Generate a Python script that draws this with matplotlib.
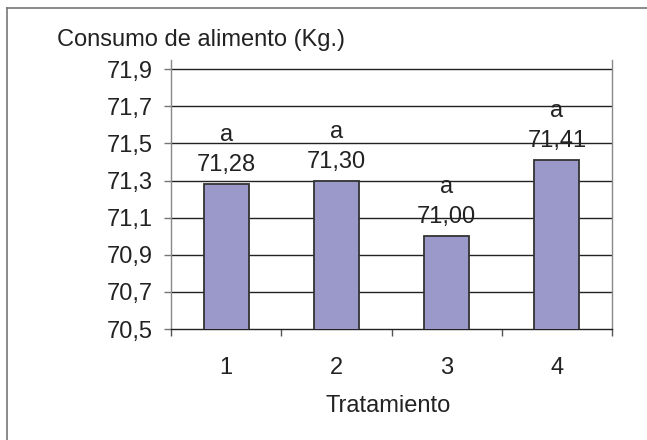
import matplotlib
matplotlib.use('Agg')
import matplotlib.pyplot as plt
from matplotlib.lines import Line2D
import numpy as np

plt.rcParams['font.family'] = ['Liberation Sans', 'DejaVu Sans']

tratamientos = ['1', '2', '3', '4']
consumo = [71.28, 71.30, 71.00, 71.41]
letras = ['a', 'a', 'a', 'a']
yticks = [70.5, 70.7, 70.9, 71.1, 71.3, 71.5, 71.7, 71.9]

bar_color = '#9b98ca'
txt = '#222222'
fs = 17

fig = plt.figure(figsize=(6.47, 4.40), dpi=100)
ax = fig.add_axes([171 / 647, 1 - 329 / 440, 441 / 647, 269 / 440])

x = np.arange(len(tratamientos))
ax.bar(x, consumo, width=0.41, color=bar_color, edgecolor='#333333',
       linewidth=1.3, zorder=3)
ax.set_xlim(-0.5, len(tratamientos) - 0.5)
ax.set_ylim(70.5, 71.95)

# gridlines
for v in yticks[1:]:
    ax.axhline(v, color='#222222', linewidth=1.0, zorder=1)

ax.set_yticks(yticks)
ax.set_yticklabels([f'{v:.1f}'.replace('.', ',') for v in yticks])
ax.set_xticks(x)
ax.set_xticklabels(tratamientos)
ax.set_xticks(np.arange(len(tratamientos) + 1) - 0.5, minor=True)

ax.tick_params(axis='y', direction='out', length=5, width=1, color='#777777',
               labelsize=fs, labelcolor=txt, pad=8)
ax.tick_params(axis='x', which='major', length=0, labelsize=fs, labelcolor=txt, pad=20)
ax.tick_params(axis='x', which='minor', direction='out', length=5, width=1,
               color='#555555')

ax.spines['top'].set_visible(False)
ax.spines['left'].set_color('#888888')
ax.spines['right'].set_color('#888888')
ax.spines['bottom'].set_color('#222222')
for s in ax.spines.values():
    s.set_linewidth(1.0)

for xi, v, l in zip(x, consumo, letras):
    ax.annotate(f'{v:.2f}'.replace('.', ','), (xi, v), xytext=(0, 9.4),
                textcoords='offset points', ha='center', va='baseline',
                fontsize=fs, color=txt, zorder=4)
    ax.annotate(l, (xi, v), xytext=(0, 31),
                textcoords='offset points', ha='center', va='baseline',
                fontsize=fs, color=txt, zorder=4)

fig.text(57 / 647, 1 - 40 / 440, 'Consumo de alimento (Kg.)', ha='left',
         va='center', fontsize=fs, color=txt)
fig.text(388 / 647, 1 - 406 / 440, 'Tratamiento', ha='center', va='center',
         fontsize=fs, color=txt)

# outer frame (only left and top edges fall inside the image)
fig.add_artist(Line2D([7 / 647, 7 / 647], [0, 1 - 8 / 440], color='#777777',
                      linewidth=1.2, transform=fig.transFigure))
fig.add_artist(Line2D([7 / 647, 1], [1 - 8 / 440, 1 - 8 / 440], color='#777777',
                      linewidth=1.2, transform=fig.transFigure))

fig.savefig('out.png', dpi=100)
